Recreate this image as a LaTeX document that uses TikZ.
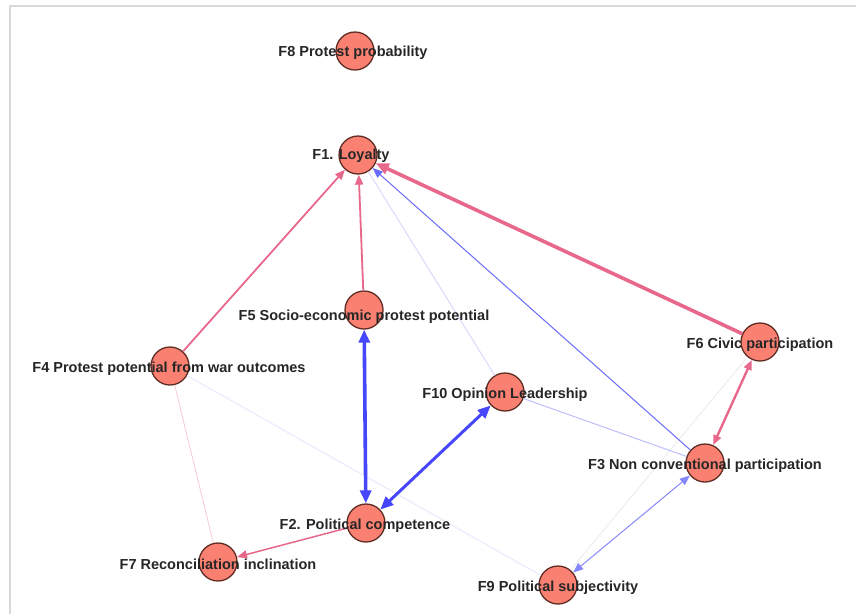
\documentclass[tikz,border=0pt]{standalone}
\usepackage{fontspec}
\setmainfont{Liberation Sans}
\usetikzlibrary{arrows.meta}
\definecolor{salmonfill}{RGB}{250,128,114}
\definecolor{rimbrown}{RGB}{95,45,35}
\definecolor{pinkedge}{RGB}{232,104,140}
\definecolor{blueedge}{RGB}{70,70,250}
\tikzset{
  fac/.style={circle, draw=rimbrown, line width=1.3pt, fill=salmonfill, minimum size=38pt, inner sep=0pt},
  lab/.style={font=\bfseries\fontsize{14.5}{15}\selectfont, text=black!85, inner sep=0pt},
  tip/.style={-{Triangle[length=10pt,width=8pt]}},
  bitip/.style={{Triangle[length=10pt,width=8pt]}-{Triangle[length=10pt,width=8pt]}},
  bigtip/.style={-{Triangle[length=13pt,width=11pt]}},
  bigbitip/.style={{Triangle[length=13pt,width=11pt]}-{Triangle[length=13pt,width=11pt]}},
}
\begin{document}
\begin{tikzpicture}[x=1pt, y=-1pt]
  \useasboundingbox (0,0) rectangle (856,614);
  \fill[white] (0,0) rectangle (856,614);
  \draw[black!15, line width=1.5pt] (10,614) -- (10,6) -- (856,6);
  % factors
  \node[fac] (f8) at (355,51) {};
  \node[fac] (f1) at (358,155) {};
  \node[fac] (f5) at (364,310) {};
  \node[fac] (f4) at (170,366) {};
  \node[fac] (f10) at (505,392) {};
  \node[fac] (f6) at (760,342) {};
  \node[fac] (f3) at (705,463) {};
  \node[fac] (f2) at (366,523) {};
  \node[fac] (f7) at (218,562) {};
  \node[fac] (f9) at (558,585) {};
  % faint links
  \draw[black!8, line width=0.8pt] (f9) -- (f6);
  \draw[blueedge!12, line width=1pt] (f4) -- (f9);
  \draw[pinkedge!35, line width=0.8pt] (f4) -- (f7);
  \draw[blueedge!20, line width=1pt] (f10) -- (f1);
  \draw[blueedge!35, line width=1pt] (f10) -- (f3);
  % links to loyalty
  \draw[tip, pinkedge, line width=1.8pt] (f4) -- (f1);
  \draw[tip, pinkedge, line width=1.8pt] (f5) -- (f1);
  \draw[bigtip, pinkedge, line width=3.6pt] (f6) -- (f1);
  \draw[tip, blueedge!80, line width=1pt] (f3) -- (f1);
  % competence links
  \draw[bigbitip, blueedge, line width=3.6pt] (f5) -- (f2);
  \draw[bigbitip, blueedge, line width=3pt] (f10) -- (f2);
  \draw[tip, pinkedge, line width=1.5pt] (f2) -- (f7);
  % participation links
  \draw[bitip, pinkedge, line width=2.4pt] (f6) -- (f3);
  \draw[bitip, blueedge!65, line width=1pt] (f3) -- (f9);
  % labels
  \node[lab] at ([xshift=-2pt,yshift=-2pt]f8) {F8 Protest probability};
  \node[lab] at ([xshift=-7pt,yshift=-1pt]f1) {F1. Loyalty};
  \node[lab] at ([yshift=-7pt]f5) {F5 Socio-economic protest potential};
  \node[lab] at ([xshift=-1pt,yshift=-3pt]f4) {F4 Protest potential from war outcomes};
  \node[lab] at ([yshift=-3pt]f10) {F10 Opinion Leadership};
  \node[lab] at ([yshift=-3pt]f6) {F6 Civic participation};
  \node[lab] at ([yshift=-3pt]f3) {F3 Non conventional participation};
  \node[lab] at ([xshift=-1pt,yshift=-3pt]f2) {F2. Political competence};
  \node[lab] at ([yshift=-2pt]f7) {F7 Reconciliation inclination};
  \node[lab] at ([yshift=-3pt]f9) {F9 Political subjectivity};
\end{tikzpicture}
\end{document}
